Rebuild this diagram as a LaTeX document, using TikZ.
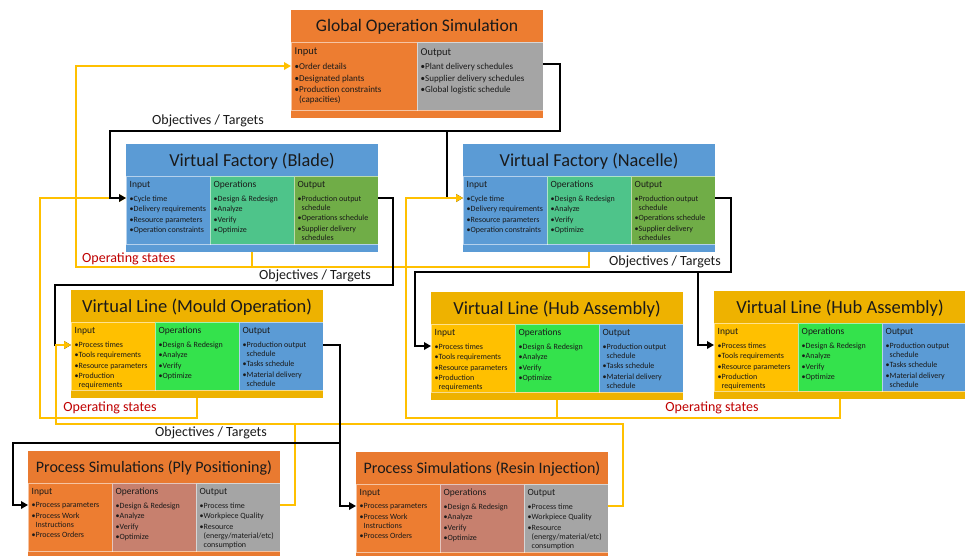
\documentclass[tikz,border=0pt]{standalone}
\usepackage{fontspec}
\setmainfont{Carlito}
\usetikzlibrary{arrows.meta,calc}

\definecolor{gosOrange}{HTML}{ED7D31}
\definecolor{gosGray}{HTML}{A5A5A5}
\definecolor{vfBlue}{HTML}{5B9BD5}
\definecolor{vfMint}{HTML}{4EC48A}
\definecolor{vfGreen}{HTML}{70AD47}
\definecolor{vlGold}{HTML}{EEB200}
\definecolor{vlAmber}{HTML}{FFC000}
\definecolor{vlLime}{HTML}{34E24C}
\definecolor{psTitle}{HTML}{E97A30}
\definecolor{psRose}{HTML}{C7806E}
\definecolor{linkYellow}{HTML}{FFC000}
\definecolor{stateRed}{HTML}{C00000}
\definecolor{inkText}{HTML}{1A1A1A}

\tikzset{
  band/.style={anchor=north west, inner sep=0pt, outer sep=0pt, minimum width=252pt},
  titleband/.style={band, minimum height=32pt},
  stripband/.style={band, minimum height=8pt},
  cellbox/.style={anchor=north west, inner sep=0pt, outer sep=0pt, minimum height=68pt,
    draw=white, draw opacity=0.55, line width=0.7pt},
  titletext/.style={text=inkText, inner sep=0pt},
  hdrtext/.style={anchor=north west, inner sep=0pt, font=\fontsize{9.5}{11}\selectfont, text=inkText},
  itemtext/.style={anchor=north west, inner sep=0pt, align=left,
    font=\fontsize{8}{9.3}\selectfont, text=inkText},
  targetlink/.style={draw=black, line width=2.9pt},
  statelink/.style={draw=linkYellow, line width=2.9pt},
  inarrow/.style={-{Triangle[length=7pt,width=7.5pt]}},
  linklabel/.style={font=\fontsize{14}{16}\selectfont, text=inkText, inner sep=1pt},
  statelabel/.style={font=\fontsize{14}{16}\selectfont, text=stateRed, inner sep=1pt},
}

% offsets of the heading and the list inside a cell
\newcommand\hdroff{4.8}
\newcommand\itemoff{19.5}

% title band and bottom strip of a block: name, x, y, colour, title, title size
\newcommand\blockhead[6]{%
  \node[titleband, fill=#4] (#1-title) at (#2,#3) {};
  \node[titletext, font=\fontsize{#6}{#6}\selectfont] (#1-name) at ($(#1-title.center)+(0,1.2)$) {#5};
  \node[stripband, fill=#4] (#1-strip) at (#2,#3+100) {};
}
% one cell of a block: name, x, block y, width, colour, heading, items
\newcommand\blockcell[7]{%
  \node[cellbox, fill=#5, minimum width=#4pt] (#1) at (#2,#3+32) {};
  \node[hdrtext] (#1-head) at ($(#1.north west)+(3.5,\hdroff)$) {#6};
  \node[itemtext] (#1-list) at ($(#1.north west)+(3.5,\itemoff)$) {#7};
}

\newcommand\opsList{•Design \& Redesign\\[1.1pt]•Analyze\\[1.1pt]•Verify\\[1.1pt]•Optimize}
\newcommand\vfInList{•Cycle time\\[1.1pt]•Delivery requirements\\[1.1pt]•Resource parameters\\[1.1pt]•Operation constraints}
\newcommand\vfOutList{•Production output\\\phantom{•}schedule\\[1.1pt]•Operations schedule\\[1.1pt]•Supplier delivery\\\phantom{•}schedules}
\newcommand\vlInList{•Process times\\[1.1pt]•Tools requirements\\[1.1pt]•Resource parameters\\[1.1pt]•Production\\\phantom{•}requirements}
\newcommand\vlOutList{•Production output\\\phantom{•}schedule\\[1.1pt]•Tasks schedule\\[1.1pt]•Material delivery\\\phantom{•}schedule}
\newcommand\psInList{•Process parameters\\[1.1pt]•Process Work\\\phantom{•}Instructions\\[1.1pt]•Process Orders}
\newcommand\psOutList{•Process time\\[1.1pt]•Workpiece Quality\\[1.1pt]•Resource\\\phantom{•}(energy/material/etc)\\\phantom{•}consumption}

\begin{document}
\begin{tikzpicture}[x=1pt,y=-1pt]
\useasboundingbox[fill=white] (0,0) rectangle (965,555);

% ---------------- Global operation simulation ----------------
\begin{scope}[itemtext/.append style={font=\fontsize{9}{10}\selectfont},
              hdrtext/.append style={font=\fontsize{10.5}{12}\selectfont}]
\def\hdroff{6}\def\itemoff{21}
\blockhead{gos}{291}{10}{gosOrange}{Global Operation Simulation}{17.6}
\blockcell{gos-in}{291}{10}{126}{gosOrange}{Input}{•Order details\\[1.6pt]•Designated plants\\[1.6pt]•Production constraints\\\phantom{•}(capacities)}
\blockcell{gos-out}{417}{10}{126}{gosGray}{Output}{•Plant delivery schedules\\[1.6pt]•Supplier delivery schedules\\[1.6pt]•Global logistic schedule}
\end{scope}

% ---------------- Virtual factories ----------------
\blockhead{vfb}{126}{144}{vfBlue}{Virtual Factory (Blade)}{18.3}
\blockcell{vfb-in}{126}{144}{84}{vfBlue}{Input}{\vfInList}
\blockcell{vfb-ops}{210}{144}{84}{vfMint}{Operations}{\opsList}
\blockcell{vfb-out}{294}{144}{84}{vfGreen}{Output}{\vfOutList}

\blockhead{vfn}{463}{144}{vfBlue}{Virtual Factory (Nacelle)}{18.3}
\blockcell{vfn-in}{463}{144}{84}{vfBlue}{Input}{\vfInList}
\blockcell{vfn-ops}{547}{144}{84}{vfMint}{Operations}{\opsList}
\blockcell{vfn-out}{631}{144}{84}{vfGreen}{Output}{\vfOutList}

% ---------------- Virtual lines ----------------
\blockhead{vlm}{71}{290}{vlGold}{Virtual Line (Mould Operation)}{18.5}
\blockcell{vlm-in}{71}{290}{84}{vlAmber}{Input}{\vlInList}
\blockcell{vlm-ops}{155}{290}{84}{vlLime}{Operations}{\opsList}
\blockcell{vlm-out}{239}{290}{84}{vfBlue}{Output}{\vlOutList}

\blockhead{vlh1}{431}{292}{vlGold}{Virtual Line (Hub Assembly)}{18.5}
\blockcell{vlh1-in}{431}{292}{84}{vlAmber}{Input}{\vlInList}
\blockcell{vlh1-ops}{515}{292}{84}{vlLime}{Operations}{\opsList}
\blockcell{vlh1-out}{599}{292}{84}{vfBlue}{Output}{\vlOutList}

\blockhead{vlh2}{714}{291}{vlGold}{Virtual Line (Hub Assembly)}{18.5}
\blockcell{vlh2-in}{714}{291}{84}{vlAmber}{Input}{\vlInList}
\blockcell{vlh2-ops}{798}{291}{84}{vlLime}{Operations}{\opsList}
\blockcell{vlh2-out}{882}{291}{84}{vfBlue}{Output}{\vlOutList}

% ---------------- Process simulations ----------------
\blockhead{psp}{28}{451}{psTitle}{Process Simulations (Ply Positioning)}{16}
\blockcell{psp-in}{28}{451}{84}{gosOrange}{Input}{\psInList}
\blockcell{psp-ops}{112}{451}{84}{psRose}{Operations}{\opsList}
\blockcell{psp-out}{196}{451}{84}{gosGray}{Output}{\psOutList}

\blockhead{psr}{356}{452}{psTitle}{Process Simulations (Resin Injection)}{16}
\blockcell{psr-in}{356}{452}{84}{gosOrange}{Input}{\psInList}
\blockcell{psr-ops}{440}{452}{84}{psRose}{Operations}{\opsList}
\blockcell{psr-out}{524}{452}{84}{gosGray}{Output}{\psOutList}

% ---------------- ports ----------------
\coordinate (gos-port) at ($(gos-in.north west)+(0,24)$);
\coordinate (gos-exit) at ($(gos-out.north east)+(0,22)$);
\coordinate (vfb-port) at ($(vfb-in.north west)+(0,22)$);
\coordinate (vfb-exit) at ($(vfb-out.north east)+(0,22)$);
\coordinate (vfn-port) at ($(vfn-in.north west)+(0,22)$);
\coordinate (vfn-exit) at ($(vfn-out.north east)+(0,22)$);
\coordinate (vlm-port) at ($(vlm-in.north west)+(0,23)$);
\coordinate (vlm-exit) at ($(vlm-out.north east)+(0,23)$);
\coordinate (vlh1-port) at ($(vlh1-in.north west)+(0,22)$);
\coordinate (vlh2-port) at ($(vlh2-in.north west)+(0,22)$);
\coordinate (psp-port) at ($(psp-in.north west)+(0,22)$);
\coordinate (psp-exit) at ($(psp-out.north east)+(0,22)$);
\coordinate (psr-port) at ($(psr-in.north west)+(0,22)$);
\coordinate (psr-exit) at ($(psr-out.north east)+(0,22)$);

% bends of the feedback and target buses
\coordinate (vf-bus) at (76,267);
\coordinate (vlm-loop) at (40,418);
\coordinate (hub-bus) at (406,418);
\coordinate (ps-bus) at (56,424);
\coordinate (tgt-a) at (110,131);
\coordinate (tgt-a2) at (447,131);
\coordinate (tgt-b) at (55,285);
\coordinate (tgt-c) at (415,272);
\coordinate (tgt-c2) at (698,272);
\coordinate (tgt-d) at (13,443);
\coordinate (tgt-d2) at (340,443);

% ---------------- connectors ----------------
% operating states of the factories back to the global simulation
\draw[statelink] (vfn-strip.south) |- (vf-bus);
\draw[statelink,inarrow] (vfb-strip.south) |- (vf-bus) |- (gos-port);
% operating states of the mould line back to the blade factory
\draw[statelink,inarrow] (vlm-strip.south) |- (vlm-loop) |- (vfb-port);
% targets from the global simulation to the factories
\draw[targetlink,inarrow] (gos-exit) -- ++(17,0) |- (tgt-a) |- (vfb-port);
\draw[targetlink,inarrow] (tgt-a2) |- (vfn-port);
% operating states of the hub lines back to the nacelle factory
\draw[statelink] (vlh2-strip.south) |- (hub-bus);
\draw[statelink,inarrow] (vlh1-strip.south) |- (hub-bus) |- (vfn-port);
% targets from the blade factory to the mould line
\draw[targetlink,inarrow] (vfb-exit) -- ++(15,0) |- (tgt-b) |- (vlm-port);
% process results back to the mould line
\draw[statelink] (psr-exit) -- ++(15,0) |- (ps-bus);
\draw[statelink,inarrow] (psp-exit) -- ++(15,0) |- (ps-bus) |- (vlm-port);
% targets from the nacelle factory to the hub lines
\draw[targetlink,inarrow] (vfn-exit) -- ++(16,0) |- (tgt-c) |- (vlh1-port);
\draw[targetlink,inarrow] (tgt-c2) |- (vlh2-port);
% targets from the mould line to the process simulations
\draw[targetlink,inarrow] (vlm-exit) -- ++(17,0) |- (tgt-d) |- (psp-port);
\draw[targetlink,inarrow] (tgt-d2) |- (psr-port);

% ---------------- labels ----------------
\node[linklabel] (obj-gos) at (208,121) {Objectives / Targets};
\node[linklabel] (obj-vfb) at (315,276) {Objectives / Targets};
\node[linklabel] (obj-vfn) at (665,262) {Objectives / Targets};
\node[linklabel] (obj-vlm) at (211,433) {Objectives / Targets};
\node[statelabel, anchor=west] (st-vf) at (81,259) {Operating states};
\node[statelabel] (st-vlm) at (110,408) {Operating states};
\node[statelabel] (st-hub) at (712,408) {Operating states};
\end{tikzpicture}
\end{document}
